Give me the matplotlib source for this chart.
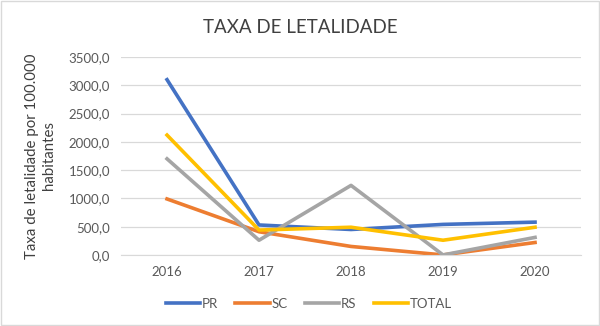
import matplotlib.pyplot as plt

# Data
years = ['2016', '2017', '2018', '2019', '2020']
pr = [3100, 530, 450, 540, 580]
sc = [990, 410, 150, 0, 220]
rs = [1700, 260, 1230, 0, 310]
total = [2120, 440, 490, 260, 490]

plt.rcParams['font.family'] = ['Lato', 'DejaVu Sans']

fig = plt.figure(figsize=(6, 3.26), dpi=100)
ax = fig.add_axes([0.2017, 0.218, 0.7667, 0.607])

x = range(len(years))
ax.plot(x, pr, color='#4472C4', lw=2.6, label='PR')
ax.plot(x, sc, color='#ED7D31', lw=2.6, label='SC')
ax.plot(x, rs, color='#A5A5A5', lw=2.6, label='RS')
ax.plot(x, total, color='#FFC000', lw=2.6, label='TOTAL')

ax.set_xlim(-0.5, len(years) - 0.5)
ax.set_ylim(0, 3500)
ax.set_yticks(range(0, 3501, 500))
ax.set_yticklabels([f'{v},0' for v in range(0, 3501, 500)])
ax.set_xticks(list(x))
ax.set_xticklabels(years)
ax.grid(axis='y', color='#D9D9D9', lw=0.9)
ax.set_axisbelow(True)
for s in ['top', 'right', 'left']:
    ax.spines[s].set_visible(False)
ax.spines['bottom'].set_color('#D9D9D9')
ax.tick_params(length=0, labelsize=9.5, colors='#595959', pad=8)

ax.set_ylabel('Taxa de letalidade por 100.000\nhabitantes', fontsize=10.8,
              color='#404040', labelpad=9, linespacing=1.3)

fig.text(0.5, 0.915, 'TAXA DE LETALIDADE', ha='center', va='center',
         fontsize=13.5, color='#404040')

fig.legend(loc='center', bbox_to_anchor=(0.515, 0.068), ncol=4, frameon=False,
           fontsize=9.5, handlelength=2.6, handletextpad=0.15, columnspacing=1.3,
           labelcolor='#595959')

fig.patches.append(plt.Rectangle((0.002, 0.003), 0.996, 0.994, transform=fig.transFigure,
                                 fill=False, edgecolor='#D9D9D9', lw=1))

fig.savefig('out.png', dpi=100)
